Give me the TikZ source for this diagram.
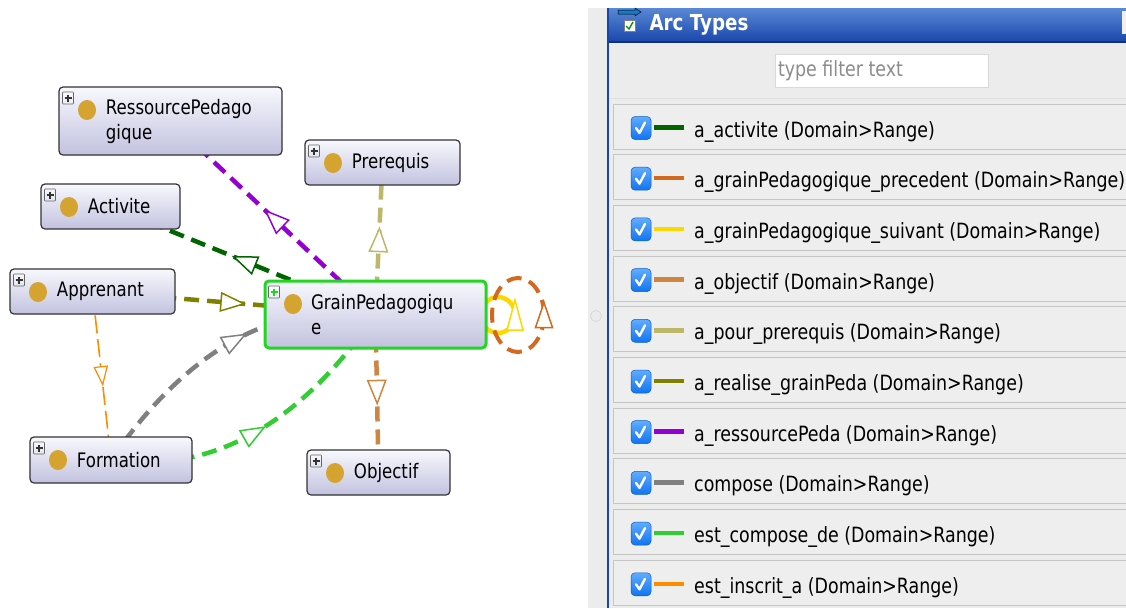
\documentclass[tikz,border=0pt]{standalone}
\usepackage{fontspec}
\setmainfont{DejaVu Sans}[FakeStretch=0.83]
\usetikzlibrary{decorations.markings,backgrounds}

\definecolor{arcact}{RGB}{0,100,0}
\definecolor{arcprec}{RGB}{210,105,30}
\definecolor{arcsuiv}{RGB}{255,215,0}
\definecolor{arcobj}{RGB}{205,133,63}
\definecolor{arcpre}{RGB}{189,183,107}
\definecolor{arcreal}{RGB}{128,128,0}
\definecolor{arcres}{RGB}{148,0,211}
\definecolor{arccomp}{RGB}{128,128,128}
\definecolor{arcestc}{RGB}{50,205,50}
\definecolor{arcinsc}{RGB}{255,140,0}
\definecolor{boxtop}{RGB}{248,248,253}
\definecolor{boxbot}{RGB}{194,194,224}
\definecolor{grainedge}{RGB}{30,215,30}
\definecolor{pastille}{RGB}{212,163,48}
\definecolor{plusbot}{RGB}{170,186,206}
\definecolor{panelbg}{RGB}{236,236,236}
\definecolor{rowbg}{RGB}{238,238,238}
\definecolor{rowedge}{RGB}{198,198,198}
\definecolor{titletop}{RGB}{88,136,214}
\definecolor{titlebot}{RGB}{26,70,170}
\definecolor{chktop}{RGB}{96,172,255}
\definecolor{chkbot}{RGB}{16,116,240}

\tikzset{
  arcpos/.store in=\arcpos, arcpos=.5,
  classe/.style={draw=black!80, line width=1.2pt, rounded corners=4pt,
    top color=boxtop, bottom color=boxbot, inner sep=0pt, minimum height=45,
    path picture={
      \draw[draw=black!60, top color=white, bottom color=plusbot, line width=.6pt, rounded corners=.8pt]
        ([shift={(3.5pt,-5pt)}]path picture bounding box.north west) rectangle ++(11pt,-12pt);
      \draw[line width=1.2pt, rounded corners=0pt]
        ([shift={(9pt,-7.5pt)}]path picture bounding box.north west) -- ++(0pt,-7pt)
        ([shift={(5.5pt,-11pt)}]path picture bounding box.north west) -- ++(7pt,0pt);
      \fill[pastille] ([shift={(28pt,-23pt)}]path picture bounding box.north west) circle[x radius=9pt, y radius=10pt];
    },
    label={[anchor=west, align=left, label distance=-44pt]west:#1}},
  rel/.style={draw=#1, line width=4.5pt, dash pattern=on 15pt off 8pt,
    postaction={decorate, decoration={markings, mark=at position \arcpos with
      {\draw[tri=#1] (10pt,0pt) -- (-13pt,9pt) -- (-13pt,-9pt) -- cycle;}}}},
  relfin/.style={draw=#1, line width=1.6pt, dash pattern=on 18pt off 6pt,
    postaction={decorate, decoration={markings, mark=at position \arcpos with
      {\draw[tri=#1, line width=1.2pt] (9pt,0pt) -- (-9pt,6.5pt) -- (-9pt,-6.5pt) -- cycle;}}}},
  tri/.style={draw=#1, fill=white, solid, line width=1.5pt},
  boucle/.style={draw=#1, line width=4pt, dash pattern=on 15pt off 8pt},
  chk/.style={draw=chkbot!80!black, line width=.5pt, top color=chktop, bottom color=chkbot,
    rounded corners=4pt, minimum width=20, minimum height=23, inner sep=0pt},
}

\begin{document}
\begin{tikzpicture}[x=1pt, y=-1pt, font=\fontsize{20}{25}\selectfont]
\useasboundingbox (0,0) rectangle (1126,608);
% classes
\node[classe={RessourcePedago\\gique}, minimum width=223, minimum height=68] (res) at (170.5,121) {};
\node[classe=Prerequis, minimum width=155] (pre) at (382.5,162.5) {};
\node[classe=Activite, minimum width=139] (act) at (110.5,206.5) {};
\node[classe=Apprenant, minimum width=165] (app) at (92.5,291.5) {};
\node[classe={GrainPedagogiqu\\e}, draw=grainedge, line width=3pt, minimum width=221, minimum height=67] (grain) at (375.5,314.5) {};
\node[classe=Formation, minimum width=162, minimum height=46] (form) at (111,460) {};
\node[classe=Objectif, minimum width=143] (obj) at (378.5,472.5) {};

% arcs, sous les classes
\begin{scope}[on background layer]
  \draw[rel=arcres] (grain.center) -- (res.center);
  \draw[rel=arcact] (grain.center) -- (act.center);
  \draw[rel=arcreal] (app.center) -- (grain.center);
  \draw[rel=arcpre] (grain.center) -- (pre.center);
  \draw[rel=arcobj] (grain.center) -- (obj.center);
  \draw[relfin=arcinsc] (app.center) -- (form.center);
  \draw[rel=arccomp, arcpos=.55] (form.center) .. controls (187.3,349) and (275.5,300.5) .. (grain.center);
  \draw[rel=arcestc, arcpos=.47] (form.center) .. controls (211,474) and (299.2,425.5) .. (grain.center);
  % boucles precedent / suivant
  \coordinate (suiv) at (498,315);
  \coordinate (prec) at (518,315);
  \draw[boucle=arcsuiv, solid, line width=4.5pt] (suiv) ellipse[x radius=17, y radius=18];
  \draw[boucle=arcprec] (prec) ellipse[x radius=26, y radius=37];
  \draw[tri=arcsuiv] ([xshift=17pt,yshift=15pt]suiv) -- ++(8,30) -- ++(-16,0) -- cycle;
  \draw[tri=arcprec] ([xshift=26pt,yshift=12.5pt]prec) -- ++(8.5,25) -- ++(-17,0) -- cycle;
\end{scope}

% panneau Arc Types
\fill[panelbg] (588,8) rectangle (1126,608);
\begin{scope}[font=\fontsize{21}{25}\selectfont]
  \clip (609,8) rectangle (1126,608);
  \shade[top color=titletop, bottom color=titlebot] (609,8) rectangle (1126,42);
  \draw[titlebot!70!black, line width=1.2pt] (609,42) -- (1126,42);
  \fill[white!88!gray] (1122,11) rectangle (1126,34);
  \node[anchor=base west, text=white, font=\bfseries\fontsize{22}{26}\selectfont] (titre) at (646,30) {Arc Types};
  \node[draw=black!15, fill=white, minimum width=213, minimum height=33, inner sep=0pt] (filtre) at (881.5,70.5) {};
  \node[anchor=west, text=black!45, inner sep=0pt] (indice) at ([xshift=3pt]filtre.west) {type filter text};
  \draw[black!12, line width=1pt] (609,98) -- (1126,98);
  \foreach \col/\nom [count=\i from 0] in {arcact/a\_activite, arcprec/a\_grainPedagogique\_precedent,
      arcsuiv/a\_grainPedagogique\_suivant, arcobj/a\_objectif, arcpre/a\_pour\_prerequis,
      arcreal/a\_realise\_grainPeda, arcres/a\_ressourcePeda, arccomp/compose,
      arcestc/est\_compose\_de, arcinsc/est\_inscrit\_a} {
    \pgfmathsetmacro\yy{126.5+50.7*\i}
    \draw[rowedge, fill=rowbg, line width=1pt] (613,\yy-22.5) rectangle (1140,\yy+22.5);
    \node[chk] (chk\i) at (641,\yy+1.5) {};
    \draw[white, line width=2.4pt, line cap=round, line join=round]
      ([shift={(-5pt,0pt)}]chk\i.center) -- ++(3.5pt,-5pt) -- ++(5.5pt,10.5pt);
    \draw[\col, line width=4.5pt] (654,\yy+1) -- (684,\yy+1);
    \node[anchor=base west, inner sep=0pt] (arc\i) at (694,\yy+10.5) {\nom{} (Domain>Range)};
  }
\end{scope}
\draw[titlebot, line width=2pt] (608,8) -- (608,608);
% icone du titre
\draw[black, line width=.5pt, fill=cyan!60!blue] (618,10) -- (635,10) -- (635,8) -- (641,12) -- (635,16) -- (635,14) -- (618,14) -- cycle;
\draw[black!50, fill=white, line width=.5pt] (624,20) rectangle (635,31);
\draw[green!60!black, line width=1.4pt] (626,26) -- (629,29) -- (633,22);
\node[circle, draw=black!20, fill=black!8, minimum size=11, inner sep=0pt] (poignee) at (596,316) {};
\end{tikzpicture}
\end{document}
